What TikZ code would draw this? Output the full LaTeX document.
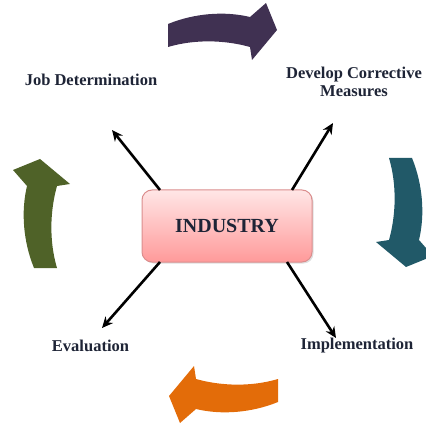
\documentclass[tikz,border=0pt]{standalone}
\usepackage{fontspec}
\setmainfont{Liberation Serif}
\usetikzlibrary{arrows.meta,shadows}
\definecolor{cpurple}{HTML}{403152}
\definecolor{cteal}{HTML}{215968}
\definecolor{corange}{HTML}{E36C09}
\definecolor{cgreen}{HTML}{4F6228}
\definecolor{boxtop}{HTML}{FFE6E6}
\definecolor{boxbot}{HTML}{FF9A9A}
\definecolor{boxedge}{HTML}{DB8E8E}
\definecolor{txt}{HTML}{1E2436}
\tikzset{
  label/.style={font=\bfseries\fontsize{16.5}{18}\selectfont, text=txt, inner sep=0pt, align=center},
  conn/.style={line width=2.6pt, -{Stealth[length=11pt,width=10pt]}},
  industrybox/.style={draw=boxedge, line width=1pt, rounded corners=10pt,
    top color=boxtop, bottom color=boxbot,
    drop shadow={shadow xshift=1.5pt, shadow yshift=-1.5pt, opacity=0.25},
    minimum width=170pt, minimum height=72pt,
    font=\bfseries\fontsize{20}{22}\selectfont, text=txt}
}
\newcommand{\cyclearrowpath}{(168,24) .. controls (195,13) and (225,11) .. (250,17) -- (266,3) -- (277,30) -- (252,60) -- (250,47) .. controls (225,40) and (195,39) .. (168,47) -- cycle}
\begin{document}
\begin{tikzpicture}[x=1pt,y=-1pt]
\useasboundingbox (0,0) rectangle (426,425);
% cycle arrows
\fill[cpurple] \cyclearrowpath;
\begin{scope}[rotate around={270:(223,213)}]
\fill[cteal] \cyclearrowpath;
\end{scope}
\begin{scope}[rotate around={180:(223,213)}]
\fill[corange] \cyclearrowpath;
\end{scope}
\begin{scope}[rotate around={90:(223,213)}]
\fill[cgreen] \cyclearrowpath;
\end{scope}
% centre box
\node[industrybox] (ind) at (227,226) {INDUSTRY};
% labels
\node[label] (job) at (91,80) {Job Determination};
\node[label] (dev) at (354,82) {Develop Corrective\\Measures};
\node[label] (eva) at (90.5,346) {Evaluation};
\node[label] (imp) at (357,346) {Implementation};
% connector end points
\coordinate (s1) at (160,190);
\coordinate (e1) at (112,130);
\coordinate (s2) at (292,190);
\coordinate (e2) at (333,123);
\coordinate (s3) at (160,262);
\coordinate (e3) at (102,328);
\coordinate (s4) at (287,262);
\coordinate (e4) at (336,338);
\draw[conn] (s1) -- (e1);
\draw[conn] (s2) -- (e2);
\draw[conn] (s3) -- (e3);
\draw[conn] (s4) -- (e4);
\end{tikzpicture}
\end{document}
